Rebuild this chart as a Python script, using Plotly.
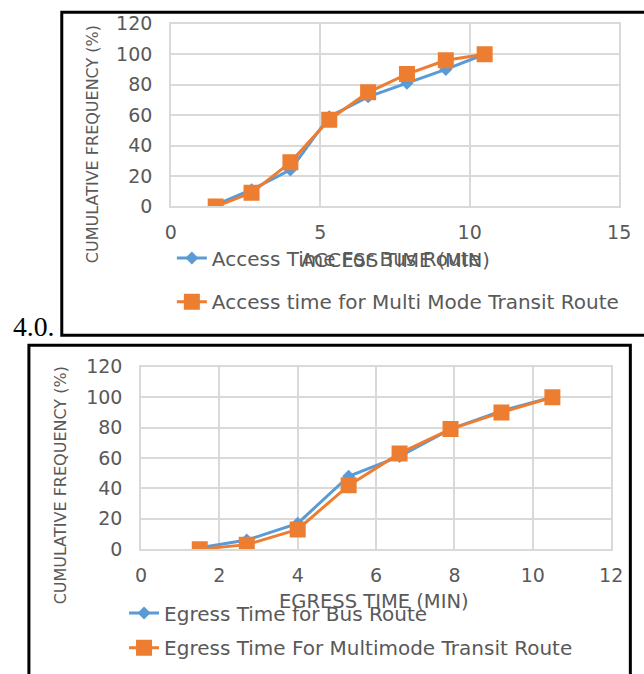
import plotly.graph_objects as go

W, H = 644, 674

# ---------------- data ----------------
access_x = [1.5, 2.7, 4.0, 5.3, 6.6, 7.9, 9.2, 10.5]
access_bus = [1, 11, 24, 59, 72, 81, 90, 100]
access_multi = [0, 9, 29, 57, 75, 87, 96, 100]

egress_x = [1.5, 2.7, 4.0, 5.3, 6.6, 7.9, 9.2, 10.5]
egress_bus = [1, 6, 17, 48, 61, 79, 91, 100]
egress_multi = [0, 3, 13, 42, 63, 79, 90, 100]

y_ticks = [0, 20, 40, 60, 80, 100, 120]
access_x_ticks = [0, 5, 10, 15]
egress_x_ticks = [0, 2, 4, 6, 8, 10, 12]

BLUE = "#5B9BD5"
ORANGE = "#ED7D31"
GRID = "#D9D9D9"
TXT = "#595959"
FONT = "DejaVu Sans"

# the photographed page comes out slightly scaled/offset; compensate
SC = 0.9758
OFFX = 5.5
OFFY = 7.8


def px(p):
    return (p - OFFX) / SC / W


def py(p):
    return 1 - (p - OFFY) / SC / H


def fs(s):
    return round(s / SC, 1)


fig = go.Figure()

fig.add_trace(go.Scatter(x=access_x, y=access_bus, mode="lines+markers",
                         name="Access Time For Bus Route", showlegend=True,
                         line=dict(color=BLUE, width=3),
                         marker=dict(symbol="diamond", size=10, color=BLUE),
                         xaxis="x", yaxis="y", legend="legend"))
fig.add_trace(go.Scatter(x=access_x, y=access_multi, mode="lines+markers",
                         name="Access time for Multi Mode Transit Route", showlegend=True,
                         line=dict(color=ORANGE, width=3),
                         marker=dict(symbol="square", size=16, color=ORANGE),
                         xaxis="x", yaxis="y", legend="legend2"))
fig.add_trace(go.Scatter(x=egress_x, y=egress_bus, mode="lines+markers",
                         name="Egress Time for Bus Route", showlegend=True,
                         line=dict(color=BLUE, width=3),
                         marker=dict(symbol="diamond", size=10, color=BLUE),
                         xaxis="x2", yaxis="y2", legend="legend3"))
fig.add_trace(go.Scatter(x=egress_x, y=egress_multi, mode="lines+markers",
                         name="Egress Time For Multimode Transit Route", showlegend=True,
                         line=dict(color=ORANGE, width=3),
                         marker=dict(symbol="square", size=16, color=ORANGE),
                         xaxis="x2", yaxis="y2", legend="legend4"))

axis_common = dict(showgrid=True, gridcolor=GRID, gridwidth=1.5,
                   showline=True, linecolor=GRID, linewidth=1.5, mirror=True,
                   zeroline=False, ticks="", fixedrange=True,
                   tickfont=dict(family=FONT, size=19, color=TXT))

fig.update_layout(
    width=W, height=H, autosize=False, showlegend=True,
    margin=dict(l=0, r=0, t=0, b=0),
    paper_bgcolor="white", plot_bgcolor="white",
    xaxis=dict(domain=[px(171), px(621)], range=[0, 15], tickvals=access_x_ticks,
               anchor="y", ticklabelstandoff=8, **axis_common),
    yaxis=dict(domain=[py(205), py(20.7)], range=[0, 120], tickvals=y_ticks,
               anchor="x", ticklabelstandoff=13, **axis_common),
    xaxis2=dict(domain=[px(141), px(613)], range=[0, 12], tickvals=egress_x_ticks,
                anchor="y2", ticklabelstandoff=8, **axis_common),
    yaxis2=dict(domain=[py(550.7), py(366.7)], range=[0, 120], tickvals=y_ticks,
                anchor="x2", ticklabelstandoff=13, **axis_common),
)

leg_common = dict(bgcolor="rgba(0,0,0,0)", borderwidth=0,
                  font=dict(family=FONT, size=20, color=TXT),
                  xanchor="left", yanchor="middle", itemclick=False)
fig.update_layout(
    legend=dict(x=px(172), y=py(257), **leg_common),
    legend2=dict(x=px(172), y=py(301), **leg_common),
    legend3=dict(x=px(124), y=py(615), **leg_common),
    legend4=dict(x=px(124), y=py(650), **leg_common),
)

ann = []
ann.append(dict(text="ACCESS TIME (MIN)", x=px(397), y=py(259), xref="paper", yref="paper",
                showarrow=False, xanchor="center", yanchor="middle",
                font=dict(family=FONT, size=fs(19), color=TXT)))
ann.append(dict(text="EGRESS TIME (MIN)", x=px(375), y=py(603), xref="paper", yref="paper",
                showarrow=False, xanchor="center", yanchor="middle",
                font=dict(family=FONT, size=fs(19), color=TXT)))
ann.append(dict(text="CUMULATIVE FREQUENCY (%)", x=px(92), y=py(142), xref="paper", yref="paper",
                showarrow=False, xanchor="center", yanchor="middle", textangle=-90,
                font=dict(family=FONT, size=fs(15.6), color=TXT)))
ann.append(dict(text="CUMULATIVE FREQUENCY (%)", x=px(60), y=py(486), xref="paper", yref="paper",
                showarrow=False, xanchor="center", yanchor="middle", textangle=-90,
                font=dict(family=FONT, size=fs(15.6), color=TXT)))
ann.append(dict(text="4.0.", x=px(11), y=py(326), xref="paper", yref="paper",
                showarrow=False, xanchor="left", yanchor="middle",
                font=dict(family="Liberation Serif", size=fs(27), color="black")))
fig.update_layout(annotations=ann)

shapes = [
    # top chart frame (right side runs off the picture)
    dict(type="rect", xref="paper", yref="paper", x0=px(61.5), x1=1.05, y0=py(335), y1=1 - 1.3 / H,
         line=dict(color="black", width=3), fillcolor="rgba(0,0,0,0)", layer="above"),
    # bottom chart frame (bottom runs off the picture)
    dict(type="rect", xref="paper", yref="paper", x0=px(28.5), x1=642.3 / W, y0=-0.05, y1=py(345),
         line=dict(color="black", width=3), fillcolor="rgba(0,0,0,0)", layer="above"),
]
fig.update_layout(shapes=shapes)

fig.write_html("out.html")
